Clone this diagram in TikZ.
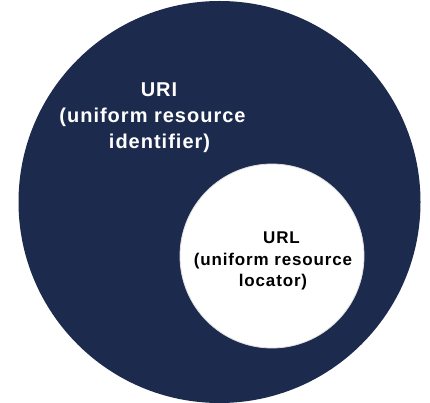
\documentclass[tikz,border=0pt]{standalone}
\usepackage{fontspec}
\setmainfont{Liberation Sans}[LetterSpace=5]
\definecolor{navy}{HTML}{1C2A4E}
\begin{document}
\begin{tikzpicture}[x=1pt,y=-1pt,
  outertxt/.style={text=white,font=\fontsize{20}{24}\selectfont\bfseries,anchor=base,inner sep=0pt},
  innertxt/.style={text=black,font=\fontsize{17}{20}\selectfont\bfseries,anchor=base,inner sep=0pt}]
\useasboundingbox (0,0) rectangle (430,403);
\fill[white] (0,0) rectangle (430,403);
\node[circle,fill=navy,minimum size=402pt,inner sep=0pt] (uri) at (219.5,202) {};
\node[circle,fill=white,draw=gray!25,line width=0.8pt,minimum size=184pt,inner sep=0pt] (url) at (272,256) {};
\node[outertxt] (uriA) at (159,97) {URI};
\node[outertxt] (uriB) at (152.5,123) {(uniform resource};
\node[outertxt] (uriC) at (159.5,149) {identifier)};
\node[innertxt] (urlA) at (281.5,243) {URL};
\node[innertxt] (urlB) at (273,265) {(uniform resource};
\node[innertxt] (urlC) at (273,286) {locator)};
\end{tikzpicture}
\end{document}
